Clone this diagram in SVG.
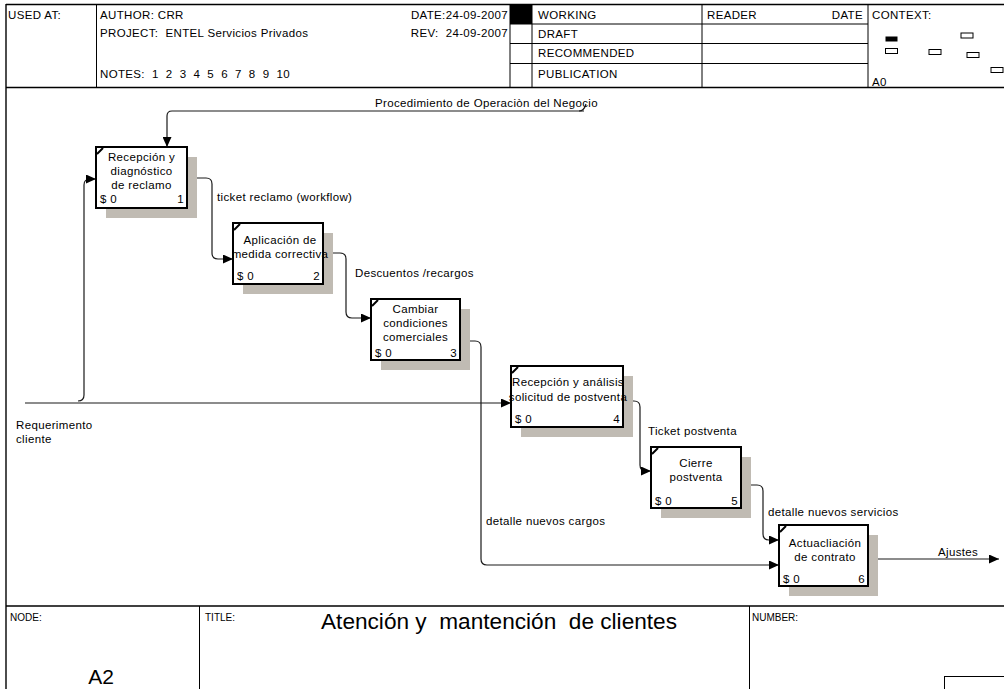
<svg xmlns="http://www.w3.org/2000/svg" width="1004" height="689" viewBox="0 0 1004 689">
  <defs>
    <style>
      text { font-family: "Liberation Sans", Arial, sans-serif; font-size: 11.5px; letter-spacing: 0.35px; fill: #000; }
      .frame { fill: none; stroke: #000; stroke-width: 1.4; }
      .thin { fill: none; stroke: #000; stroke-width: 1; }
      .box { fill: #fff; stroke: #000; stroke-width: 2; }
      .shadow { fill: #c0bbb3; }
      .tick { stroke: #000; stroke-width: 2; }
      .conn { fill: none; stroke: #1a1a1a; stroke-width: 1.2; }
      .mid { text-anchor: middle; }
      .end { text-anchor: end; }
      .small { font-size: 10px; letter-spacing: 0; }
    </style>
    <marker id="arrow" markerUnits="userSpaceOnUse" markerWidth="10" markerHeight="9" refX="10" refY="4.5" orient="auto">
      <path d="M0,0 L10,4.5 L0,9 z" fill="#000"/>
    </marker>
  </defs>

  <rect width="1004" height="689" fill="#fff"/>

  <!-- header block -->
  <g id="header">
    <line class="frame" x1="6" y1="4.5" x2="1004" y2="4.5"/>
    <line class="frame" x1="6" y1="87.5" x2="1004" y2="87.5"/>
    <line class="frame" x1="6" y1="4" x2="6" y2="689"/>
    <line class="thin" x1="96.5" y1="4.5" x2="96.5" y2="87.5"/>
    <line class="thin" x1="510" y1="4.5" x2="510" y2="87.5"/>
    <line class="thin" x1="532" y1="4.5" x2="532" y2="87.5"/>
    <line class="thin" x1="702" y1="4.5" x2="702" y2="87.5"/>
    <line class="thin" x1="868" y1="4.5" x2="868" y2="87.5"/>
    <line class="thin" x1="510" y1="24" x2="868" y2="24"/>
    <line class="thin" x1="510" y1="43.5" x2="868" y2="43.5"/>
    <line class="thin" x1="510" y1="63.5" x2="868" y2="63.5"/>
    <rect x="510" y="4.5" width="22" height="19.5" fill="#000"/>

    <text x="8" y="19">USED AT:</text>
    <text x="100" y="19">AUTHOR: CRR</text>
    <text x="100" y="37" xml:space="preserve">PROJECT:  ENTEL Servicios Privados</text>
    <text x="100" y="78" xml:space="preserve">NOTES:  1  2  3  4  5  6  7  8  9  10</text>
    <text x="508" y="19" class="end">DATE:24-09-2007</text>
    <text x="508" y="37" class="end" xml:space="preserve">REV:  24-09-2007</text>
    <text x="538" y="19">WORKING</text>
    <text x="538" y="38">DRAFT</text>
    <text x="538" y="57">RECOMMENDED</text>
    <text x="538" y="78">PUBLICATION</text>
    <text x="707" y="19">READER</text>
    <text x="863" y="19" class="end">DATE</text>
    <text x="872" y="19">CONTEXT:</text>
    <text x="872" y="86">A0</text>

    <!-- context map -->
    <rect x="885.5" y="36.5" width="12" height="5" fill="#000"/>
    <rect x="961" y="33" width="12" height="5" class="thin"/>
    <rect x="885.5" y="48.5" width="12" height="5" class="thin"/>
    <rect x="929" y="49.5" width="12" height="5" class="thin"/>
    <rect x="967" y="52.5" width="12" height="5" class="thin"/>
    <rect x="991" y="67.5" width="12" height="5" class="thin"/>
  </g>

  <!-- connectors -->
  <g id="connectors">
    <path class="conn" d="M584,111 L172,111 Q167,111 167,116 L167,147" marker-end="url(#arrow)"/>
    <path class="conn" d="M579,111 Q584,111 586,104"/>
    <path class="conn" d="M25,403 L511,403" marker-end="url(#arrow)"/>
    <path class="conn" d="M78,401 Q84,401 84,395 L84,185 Q84,179 90,179 L96,179" marker-end="url(#arrow)"/>
    <path class="conn" d="M187,178 L206,178 Q212,178 212,184 L212,253 Q212,259 218,259 L233,259" marker-end="url(#arrow)"/>
    <path class="conn" d="M323,253 L340,253 Q346,253 346,259 L346,312 Q346,318 352,318 L371,318" marker-end="url(#arrow)"/>
    <path class="conn" d="M460,341 L475,341 Q481,341 481,347 L481,559 Q481,565 487,565 L779,565" marker-end="url(#arrow)"/>
    <path class="conn" d="M623,401 L634,401 Q640,401 640,407 L640,465 Q640,471 646,471 L651,471" marker-end="url(#arrow)"/>
    <path class="conn" d="M741,485 L757,485 Q763,485 763,491 L763,534 Q763,540 769,540 L779,540" marker-end="url(#arrow)"/>
    <path class="conn" d="M868,559 L999,559" marker-end="url(#arrow)"/>

    <text x="375" y="107">Procedimiento de Operaciòn del Negocio</text>
    <text x="217" y="201">ticket reclamo (workflow)</text>
    <text x="355" y="277">Descuentos /recargos</text>
    <text x="648" y="435">Ticket postventa</text>
    <text x="486" y="525">detalle nuevos cargos</text>
    <text x="768" y="516">detalle nuevos servicios</text>
    <text x="938" y="556">Ajustes</text>
    <text x="16" y="429">Requerimento</text>
    <text x="16" y="443">cliente</text>
  </g>

  <!-- activity boxes -->
  <g id="box1">
    <rect class="shadow" x="106" y="157" width="91" height="61"/>
    <rect class="box" x="96" y="147" width="91" height="61"/>
    <line class="tick" x1="97" y1="154" x2="103" y2="148"/>
    <text x="141.5" y="161" class="mid">Recepción y</text>
    <text x="141.5" y="175" class="mid">diagnóstico</text>
    <text x="141.5" y="189" class="mid">de reclamo</text>
    <text x="100" y="203">$ 0</text>
    <text x="184" y="203" class="end">1</text>
  </g>

  <g id="box2">
    <rect class="shadow" x="243" y="233" width="90" height="61"/>
    <rect class="box" x="233" y="223" width="90" height="61"/>
    <line class="tick" x1="234" y1="230" x2="240" y2="224"/>
    <text x="280" y="244" class="mid">Aplicación de</text>
    <text x="280" y="258" class="mid">medida correctiva</text>
    <text x="237" y="280">$ 0</text>
    <text x="320" y="280" class="end">2</text>
  </g>

  <g id="box3">
    <rect class="shadow" x="381" y="309" width="89" height="61"/>
    <rect class="box" x="371" y="299" width="89" height="61"/>
    <line class="tick" x1="372" y1="306" x2="378" y2="300"/>
    <text x="415.5" y="313" class="mid">Cambiar</text>
    <text x="415.5" y="327" class="mid">condiciones</text>
    <text x="415.5" y="341" class="mid">comerciales</text>
    <text x="375" y="357">$ 0</text>
    <text x="457" y="357" class="end">3</text>
  </g>

  <g id="box4">
    <rect class="shadow" x="521" y="376" width="112" height="61"/>
    <rect class="box" x="511" y="366" width="112" height="61"/>
    <line class="tick" x1="512" y1="373" x2="518" y2="367"/>
    <text x="568" y="386" class="mid">Recepción y análisis</text>
    <text x="568" y="401" class="mid">solicitud de postventa</text>
    <text x="515" y="423">$ 0</text>
    <text x="620" y="423" class="end">4</text>
  </g>

  <g id="box5">
    <rect class="shadow" x="661" y="457" width="90" height="61"/>
    <rect class="box" x="651" y="447" width="90" height="61"/>
    <line class="tick" x1="652" y1="454" x2="658" y2="448"/>
    <text x="696" y="467" class="mid">Cierre</text>
    <text x="696" y="481" class="mid">postventa</text>
    <text x="655" y="505">$ 0</text>
    <text x="738" y="505" class="end">5</text>
  </g>

  <g id="box6">
    <rect class="shadow" x="789" y="535" width="89" height="61"/>
    <rect class="box" x="779" y="525" width="89" height="61"/>
    <line class="tick" x1="780" y1="532" x2="786" y2="526"/>
    <text x="825" y="547" class="mid">Actuacliación</text>
    <text x="825" y="561" class="mid">de contrato</text>
    <text x="783" y="583">$ 0</text>
    <text x="865" y="583" class="end">6</text>
  </g>

  <!-- footer block -->
  <g id="footer">
    <line class="frame" x1="6" y1="606" x2="1004" y2="606"/>
    <line class="thin" x1="199.5" y1="606" x2="199.5" y2="689"/>
    <line class="thin" x1="749.5" y1="606" x2="749.5" y2="689"/>
    <rect class="thin" x="944.5" y="676.5" width="70" height="30"/>
    <text x="10" y="621" class="small">NODE:</text>
    <text x="205" y="621" class="small">TITLE:</text>
    <text x="752" y="621" class="small">NUMBER:</text>
    <text x="321" y="629" style="font-size:22px;letter-spacing:0" textLength="356" lengthAdjust="spacingAndGlyphs" xml:space="preserve">Atención y  mantención  de clientes</text>
    <text x="101" y="684" class="mid" style="font-size:21px;letter-spacing:0">A2</text>
  </g>
</svg>
